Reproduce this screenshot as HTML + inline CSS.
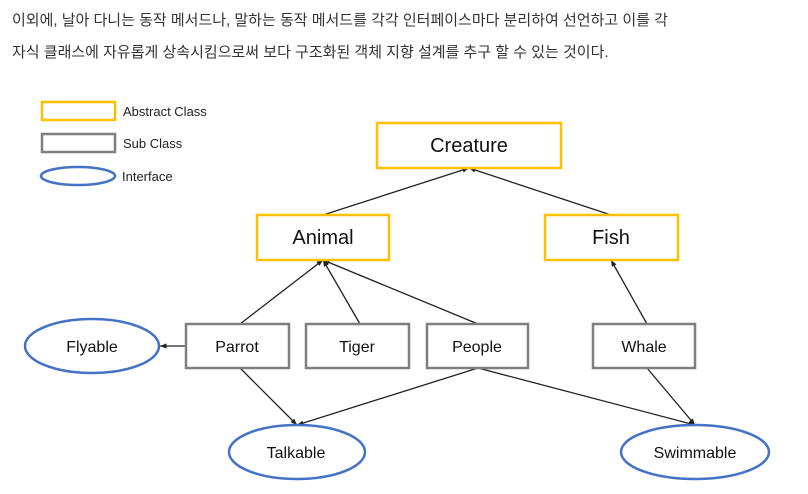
<!DOCTYPE html>
<html><head><meta charset="utf-8"><style>
body{margin:0;width:808px;height:494px;background:#fff;overflow:hidden;font-family:"Liberation Sans","Noto Sans CJK KR",sans-serif}
.t{position:absolute;left:12px;font-size:15px;color:#333;white-space:nowrap}
svg{position:absolute;left:0;top:0}
</style></head><body>
<div class="t" style="top:9px">이외에, 날아 다니는 동작 메서드나, 말하는 동작 메서드를 각각 인터페이스마다 분리하여 선언하고 이를 각</div>
<div class="t" style="top:41px">자식 클래스에 자유롭게 상속시킴으로써 보다 구조화된 객체 지향 설계를 추구 할 수 있는 것이다.</div>
<svg width="808" height="494" font-family="Liberation Sans, sans-serif">
<defs><marker id="a" markerWidth="6" markerHeight="6" refX="5" refY="3" orient="auto"><path d="M0,1 L5,3 L0,5z" fill="#222"/></marker></defs>
<g stroke="#222" stroke-width="1.3" marker-end="url(#a)">
<line x1="323" y1="215" x2="469" y2="168"/><line x1="611" y1="215" x2="469" y2="168"/>
<line x1="240" y1="324" x2="323" y2="260"/><line x1="360" y1="324" x2="323" y2="260"/>
<line x1="478" y1="324" x2="323" y2="260"/><line x1="647" y1="324" x2="611" y2="260"/>
<line x1="186" y1="346" x2="160" y2="346"/><line x1="240" y1="368" x2="297" y2="425"/>
<line x1="478" y1="368" x2="297" y2="425"/><line x1="478" y1="368" x2="695" y2="425"/>
<line x1="647" y1="368" x2="695" y2="425"/>
</g>
<g fill="#fff" stroke="#ffc000" stroke-width="2.5">
<rect x="42" y="102" width="73" height="18"/>
<rect x="377" y="123" width="184" height="45"/>
<rect x="257" y="215" width="132" height="45"/>
<rect x="545" y="215" width="133" height="45"/>
</g>
<g fill="#fff" stroke="#7f7f7f" stroke-width="2.5">
<rect x="42" y="134" width="73" height="18"/>
<rect x="186" y="324" width="103" height="44"/>
<rect x="306" y="324" width="103" height="44"/>
<rect x="427" y="324" width="101" height="44"/>
<rect x="593" y="324" width="102" height="44"/>
</g>
<g fill="#fff" stroke="#4472c4" stroke-width="2.5">
<ellipse cx="78" cy="176" rx="37" ry="9"/>
<ellipse cx="92" cy="346" rx="67" ry="27"/>
<ellipse cx="297" cy="452" rx="68" ry="27"/>
<ellipse cx="695" cy="452" rx="74" ry="27"/>
</g>
<g font-size="13" fill="#222">
<text x="123" y="116">Abstract Class</text>
<text x="123" y="148">Sub Class</text>
<text x="122" y="181">Interface</text>
</g>
<g font-size="20" fill="#111" text-anchor="middle">
<text x="469" y="152">Creature</text>
<text x="323" y="244">Animal</text>
<text x="611" y="244">Fish</text>
</g>
<g font-size="16" fill="#111" text-anchor="middle">
<text x="237" y="352">Parrot</text>
<text x="357" y="352">Tiger</text>
<text x="477" y="352">People</text>
<text x="644" y="352">Whale</text>
<text x="92" y="352">Flyable</text>
<text x="296" y="458">Talkable</text>
<text x="695" y="458">Swimmable</text>
</g>
</svg>
</body></html>
